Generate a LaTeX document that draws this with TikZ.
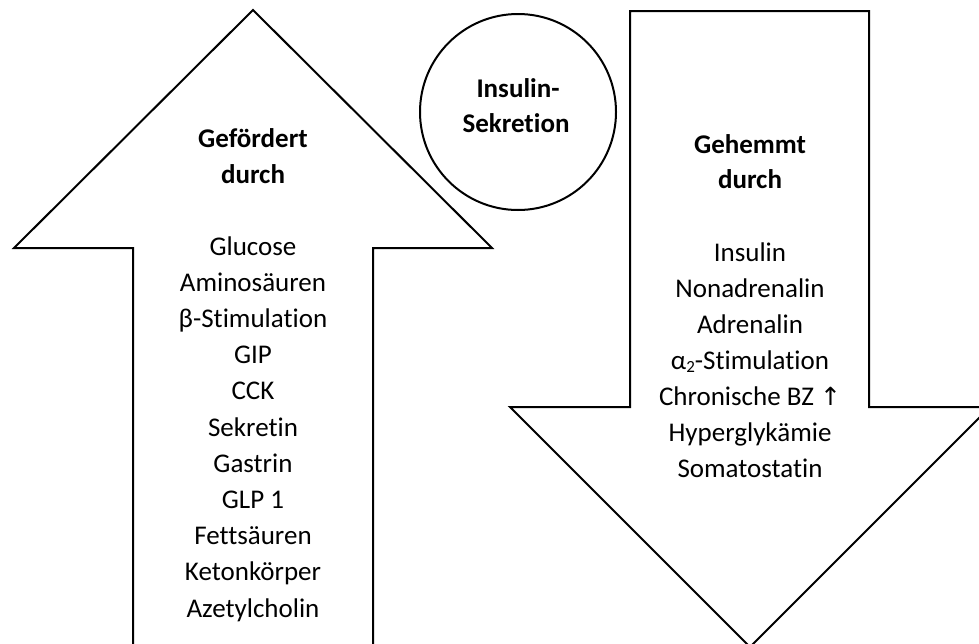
\documentclass[tikz,border=0pt]{standalone}
\usepackage{fontspec}
\setmainfont[Ligatures={NoCommon}]{Carlito}
\newfontfamily\symfont{DejaVu Sans}
\begin{document}
\begin{tikzpicture}[x=1pt,y=-1pt,
  shape outline/.style={draw=black,line width=2pt,fill=white,line join=miter},
  itemtext/.style={anchor=base,font=\fontsize{27}{36}\selectfont,inner sep=0pt},
  headtext/.style={anchor=base,font=\fontsize{27}{36}\selectfont\bfseries,inner sep=0pt}]
\useasboundingbox (0,0) rectangle (979,643);
\clip (0,0) rectangle (979,643);
% up arrow (gefoerdert)
\draw[shape outline] (253,10) -- (492,248) -- (373,248) -- (373,670) -- (133,670) -- (133,248) -- (14,248) -- cycle;
% down arrow (gehemmt)
\draw[shape outline] (630,11) -- (869,11) -- (869,407) -- (990,407) -- (750,647) -- (510,407) -- (630,407) -- cycle;
% circle
\node[draw=black,line width=2pt,circle,minimum size=196pt,inner sep=0pt] (circ) at (518,112) {};
\node[headtext] (ins1) at (518,97) {Insulin-};
\node[headtext] (ins2) at (516,132) {Sekretion};
% left headings
\node[headtext] (gef1) at (253,147) {Gefördert};
\node[headtext] (gef2) at (253,183) {durch};
% right headings
\node[headtext] (geh1) at (750,153) {Gehemmt};
\node[headtext] (geh2) at (750,188) {durch};
% left list
\foreach \t [count=\i from 0] in {Glucose,Aminosäuren,β-Stimulation,GIP,CCK,Sekretin,Gastrin,GLP 1,Fettsäuren,Ketonkörper,Azetylcholin}
  \node[itemtext] (L\i) at (253,{255+36.2*\i}) {\t};
% right list
\foreach \t [count=\i from 0] in {Insulin,Nonadrenalin,Adrenalin,{α\raisebox{-0.12em}{\fontsize{17}{20}\selectfont 2}-Stimulation},{Chronische BZ {\symfont\fontsize{25}{30}\selectfont ↑}},Hyperglykämie,Somatostatin}
  \node[itemtext] (R\i) at (750,{261+36*\i}) {\t};
\end{tikzpicture}
\end{document}
